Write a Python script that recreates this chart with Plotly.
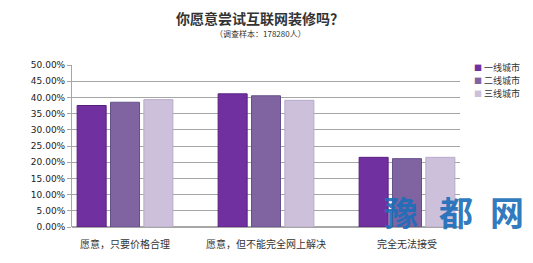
import plotly.graph_objects as go

categories = ["愿意，只要价格合理", "愿意，但不能完全网上解决", "完全无法接受"]
series_names = ["一线城市", "二线城市", "三线城市"]
tier1 = [0.375, 0.411, 0.215]
tier2 = [0.385, 0.405, 0.211]
tier3 = [0.393, 0.391, 0.215]
colors = ["#7030A0", "#8064A2", "#CCC0DA"]
edges = ["#5A2080", "#66508A", "#B8AACB"]
yticks = [i * 0.05 for i in range(11)]
watermark = ["豫", "都", "网"]

FONT = "Noto Sans CJK SC"
L, R, T, B = 72, 460, 65, 227
PW, PH = R - L, B - T


def px(x):
    return (x - L) / PW


def py(y):
    return (B - y) / PH


fig = go.Figure()
for name, vals, c, e in zip(series_names, [tier1, tier2, tier3], colors, edges):
    fig.add_bar(x=list(range(len(categories))), y=vals, name=name,
                marker=dict(color=c, line=dict(color=e, width=1)),
                showlegend=False)

fig.update_layout(
    width=533, height=263,
    margin=dict(l=L, r=533 - R, t=T, b=263 - B),
    paper_bgcolor="white", plot_bgcolor="white",
    barmode="group", bargap=0.29, bargroupgap=0.13,
    font=dict(family=FONT, color="#333333"),
    showlegend=False,
    xaxis=dict(tickmode="array", tickvals=list(range(len(categories))),
               ticktext=categories, range=[-0.376, 2.376],
               showgrid=False, showline=False, ticks="",
               ticklabelstandoff=10,
               tickfont=dict(size=10, color="#333333")),
    yaxis=dict(range=[0, 0.5], tickvals=yticks, tickformat=".2%",
               showgrid=True, gridcolor="#A6A6A6", gridwidth=1,
               showline=True, linecolor="#A6A6A6", ticks="outside",
               ticklen=4, tickcolor="#A6A6A6",
               tickfont=dict(size=9, color="#222222", family="DejaVu Sans"),
               zeroline=True, zerolinecolor="#A6A6A6"),
)

fig.add_annotation(text="<b>你愿意尝试互联网装修吗？</b>", xref="paper", yref="paper",
                   x=px(260), y=py(18), xanchor="center", yanchor="middle",
                   showarrow=False,
                   font=dict(size=14, color="#333333", family=FONT))
fig.add_annotation(text="（调查样本：178280人）", xref="paper", yref="paper",
                   x=px(260), y=py(33), xanchor="center", yanchor="middle",
                   showarrow=False,
                   font=dict(size=8, color="#333333", family=FONT))

# legend
leg_y = [67, 80, 93]
for name, c, yy in zip(series_names, colors, leg_y):
    fig.add_annotation(text=f'<span style="color:{c};font-size:8px">■</span> {name}',
                       xref="paper", yref="paper", x=px(472), y=py(yy),
                       xanchor="left", yanchor="middle", showarrow=False,
                       font=dict(size=9, color="#333333", family=FONT))

# watermark
for ch, xx in zip(watermark, [401, 456, 507]):
    fig.add_annotation(text=f"<b>{ch}</b>", xref="paper", yref="paper",
                       x=px(xx), y=py(211), xanchor="center", yanchor="middle",
                       showarrow=False,
                       font=dict(size=34, color="rgba(28,110,185,0.92)", family=FONT))

fig.write_html("out.html")
